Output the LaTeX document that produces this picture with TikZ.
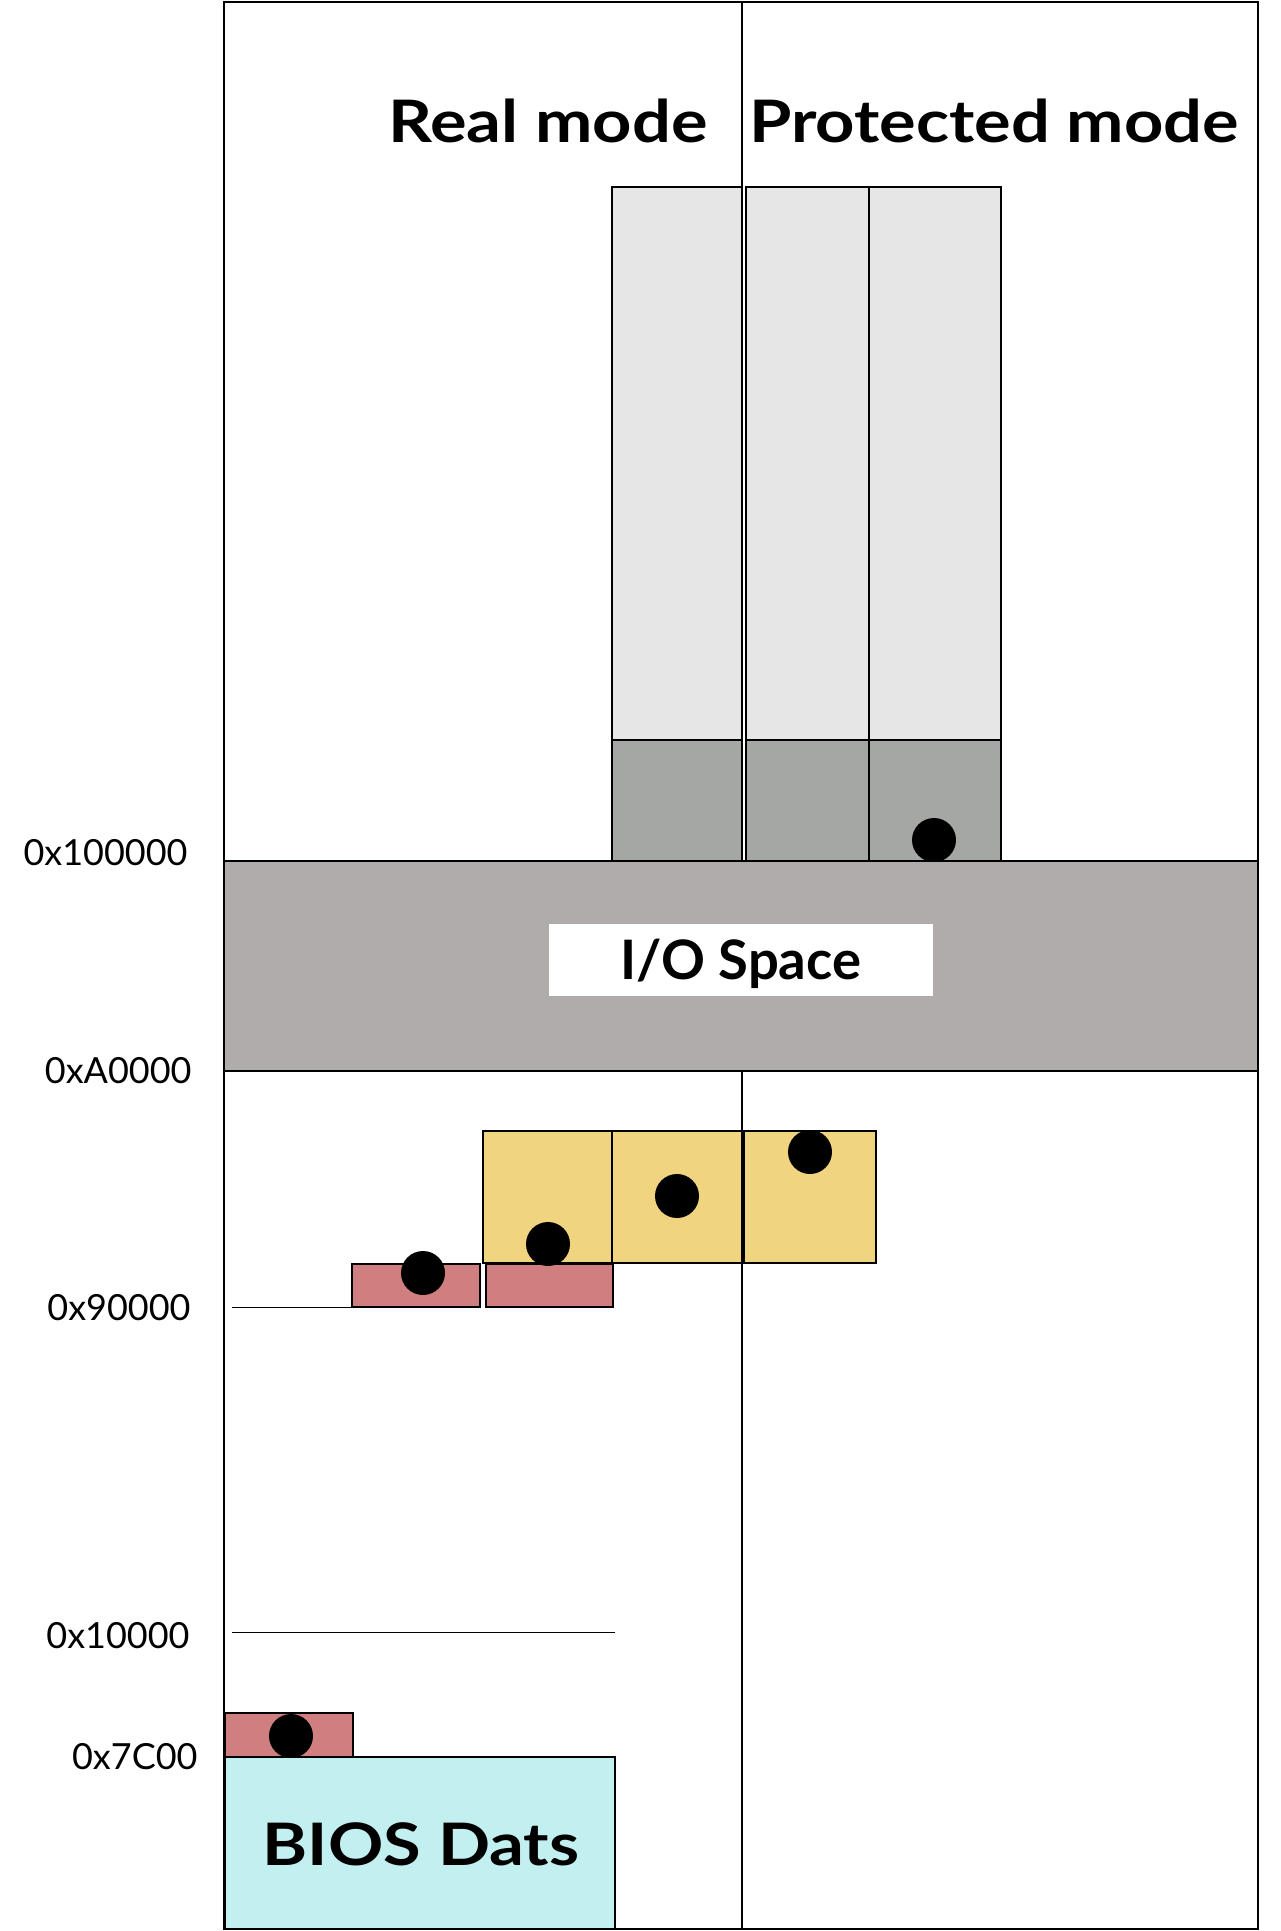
\documentclass[tikz,border=0pt]{standalone}
\usepackage{fontspec}
\setmainfont{Lato}
\newfontfamily\headfont[FakeStretch=1.17]{Lato}
\usetikzlibrary{positioning}
\definecolor{iogray}{HTML}{AFACAB}
\definecolor{himem}{HTML}{E6E6E6}
\definecolor{lomem}{HTML}{A5A7A4}
\definecolor{segyel}{HTML}{F0D480}
\definecolor{segred}{HTML}{CF7F7F}
\definecolor{biosc}{HTML}{C2F0F0}
\begin{document}
\begin{tikzpicture}[x=0.5pt,y=-0.5pt,
   box/.style={draw,line width=1pt},
   thin/.style={draw,line width=0.5pt},
   dot/.style={circle,fill=black,minimum size=22pt,inner sep=0pt},
   addr/.style={font=\fontsize{18}{20}\selectfont,anchor=east,inner sep=0pt},
   title/.style={font=\headfont\bfseries\fontsize{29.3}{32}\selectfont,inner sep=0pt,anchor=base}]
  \useasboundingbox (0,0) rectangle (1280,1931);
  % memory frame
  \draw[box] (224,2) rectangle (742,861);
  \draw[box] (742,2) rectangle (1258,861);
  \draw[box] (224,1071) rectangle (742,1929);
  \draw[box] (742,1071) rectangle (1258,1929);
  \draw[box,fill=iogray] (224,861) rectangle (1258,1071);
  \node[title] (real) at (548,143) {Real mode};
  \node[title] (prot) at (994,143) {Protected mode};
  \node[title,font=\bfseries\fontsize{27.2}{30}\selectfont,anchor=center,fill=white,
        minimum width=192pt,minimum height=36pt,
        text height=19.5pt,text depth=0pt] (io) at (741,960) {I/O Space};
  % kernel columns above 1MB
  \draw[box,fill=himem] (612,187) rectangle (742,740);
  \draw[box,fill=himem] (746,187) rectangle (869,740);
  \draw[box,fill=himem] (869,187) rectangle (1001,740);
  \draw[box,fill=lomem] (612,740) rectangle (742,861);
  \draw[box,fill=lomem] (746,740) rectangle (869,861);
  \draw[box,fill=lomem] (869,740) rectangle (1001,861);
  % low memory segments
  \draw[box,fill=segyel] (483,1131) rectangle (612,1263);
  \draw[box,fill=segyel] (612,1131) rectangle (742,1263);
  \draw[box,fill=segyel] (744,1131) rectangle (876,1263);
  \draw[box,fill=segred] (352,1264) rectangle (480,1307);
  \draw[box,fill=segred] (486,1264) rectangle (613,1307);
  \draw[box,fill=segred] (225,1713) rectangle (353,1757);
  \draw[box,fill=biosc] (225,1757) rectangle (615,1929);
  \node[title] (bios) at (421,1865) {BIOS Dats};
  \coordinate (m90) at (232,1307);
  \coordinate (m10) at (232,1632);
  \draw[thin] (m90) -- (352,1307);
  \draw[thin] (m10) -- (615,1632);
  % markers
  \node[dot] (d1) at (934,840) {};
  \node[dot] (d2) at (810,1152) {};
  \node[dot] (d3) at (677,1196) {};
  \node[dot] (d4) at (548,1244) {};
  \node[dot] (d5) at (423,1273) {};
  \node[dot] (d6) at (291,1736) {};
  % addresses
  \node[addr] (a100000) at (188,853) {0x100000};
  \node[addr] (aA0000) at (192,1071) {0xA0000};
  \node[addr] (a90000) at (191,1308) {0x90000};
  \node[addr] (a10000) at (190,1636) {0x10000};
  \node[addr] (a7C00) at (198,1757) {0x7C00};
\end{tikzpicture}
\end{document}
